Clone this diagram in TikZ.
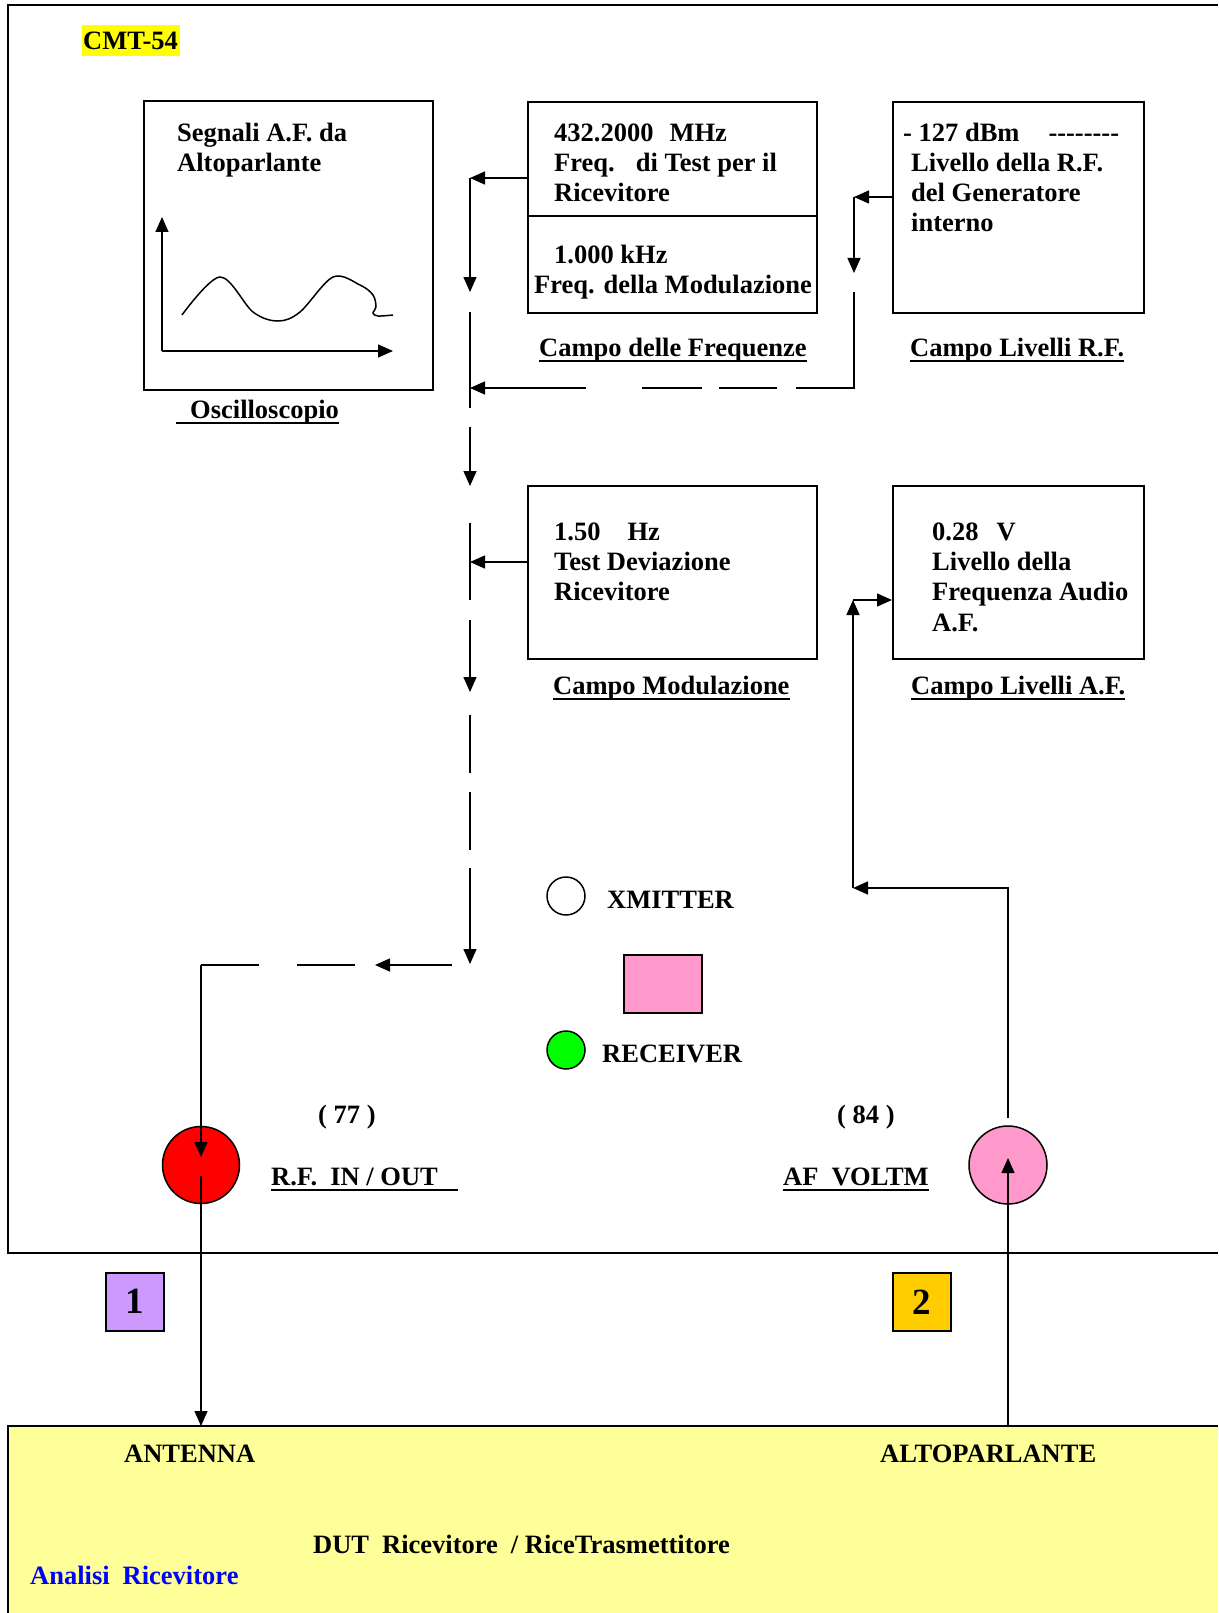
\documentclass[tikz,border=0pt]{standalone}
\usepackage{fontspec}
\setmainfont{Liberation Serif}
\usetikzlibrary{arrows.meta}
\definecolor{hl}{HTML}{FFFF00}
\definecolor{pinkf}{HTML}{FF99CC}
\definecolor{lav}{HTML}{CC99FF}
\definecolor{gold}{HTML}{FFCC00}
\definecolor{paley}{HTML}{FFFF99}
\definecolor{grn}{HTML}{00FF00}
\definecolor{rd}{HTML}{FF0000}
\definecolor{blu}{HTML}{0000FF}
\begin{document}
\begin{tikzpicture}[x=1pt,y=-1pt,
  txt/.style={inner sep=0pt, anchor=base west, font=\bfseries\fontsize{26.5}{30}\selectfont},
  frm/.style={draw, line width=1.8pt},
  boxn/.style={draw, line width=1.8pt, anchor=north west, inner sep=0pt},
  wire/.style={line width=1.5pt},
  arr/.style={wire, -{Triangle[length=15pt,width=13pt]}},
  uline/.style={line width=2.2pt},
  dot/.style={circle, draw, line width=1.5pt, inner sep=0pt},
  tag/.style={draw, line width=1.5pt, minimum width=58pt, minimum height=58pt, inner sep=0pt, font=\bfseries\fontsize{37}{40}\selectfont},
]
\useasboundingbox (0,0) rectangle (1218,1613);
\fill[white] (0,0) rectangle (1218,1613);

% outer instrument frame
\draw[frm] (1218,5) -- (8,5) -- (8,1253) -- (1218,1253);

% DUT yellow area
\fill[paley] (8,1426) rectangle (1218,1613);
\draw[frm] (1218,1426) -- (8,1426) -- (8,1613);
\coordinate (ant) at (201,1426);
\coordinate (spk) at (1008,1426);

% title
\fill[hl] (82,25) rectangle (180,56);
\node[txt] (title) at (83,50) {CMT-54};

% oscilloscope
\node[boxn, minimum width=289pt, minimum height=289pt] (osc) at (143,100) {};
\node[txt] (o1) at (177,142) {Segnali A.F. da};
\node[txt] (o2) at (177,172) {Altoparlante};
\coordinate (ax0) at (162,351);
\draw[arr] (ax0) -- (162,217);
\draw[arr] (ax0) -- (393,351);
\draw[wire] plot[smooth, tension=0.55] coordinates {(182,315) (220,277) (253,312) (278,321) (300,312) (333,277) (360,285) (373,295) (376,307) (373,313) (378,316) (393,315)};
\node[txt] (oscl) at (176,418) {\hspace*{14pt}Oscilloscopio};
\draw[uline] ([yshift=-5pt]oscl.base west) -- ([yshift=-5pt]oscl.base east);

% frequency box
\node[boxn, minimum width=289pt, minimum height=211pt] (freq) at (527,101) {};
\draw[frm] (527,216) -- (816,216);
\node[txt] (f1) at (554,142) {432.2000\hspace*{16pt}MHz};
\node[txt] (f2) at (554,172) {Freq.\hspace*{21pt}di Test per il};
\node[txt] (f3) at (554,202) {Ricevitore};
\node[txt] (f4) at (554,263) {1.000 kHz};
\node[txt] (f5) at (534,293) {Freq. della Modulazione};
\node[txt] (freql) at (539,356) {Campo delle Frequenze};
\draw[uline] ([yshift=-5pt]freql.base west) -- ([yshift=-5pt]freql.base east);

% RF level box
\node[boxn, minimum width=251pt, minimum height=211pt] (rf) at (892,101) {};
\node[txt] (r1) at (903,142) {- 127 dBm\hspace*{29pt}{-}{-}{-}{-}{-}{-}{-}{-}};
\node[txt] (r2) at (911,172) {Livello della R.F.};
\node[txt] (r3) at (911,202) {del Generatore};
\node[txt] (r4) at (911,232) {interno};
\node[txt] (rfl) at (910,356) {Campo Livelli R.F.};
\draw[uline] ([yshift=-5pt]rfl.base west) -- ([yshift=-5pt]rfl.base east);

% modulation box
\node[boxn, minimum width=289pt, minimum height=173pt] (mod) at (527,485) {};
\node[txt] (m1) at (554,540) {1.50\hspace*{27pt}Hz};
\node[txt] (m2) at (554,570) {Test Deviazione};
\node[txt] (m3) at (554,600) {Ricevitore};
\node[txt] (modl) at (553,694) {Campo Modulazione};
\draw[uline] ([yshift=-5pt]modl.base west) -- ([yshift=-5pt]modl.base east);

% AF level box
\node[boxn, minimum width=251pt, minimum height=173pt] (af) at (892,485) {};
\node[txt] (a1) at (932,540) {0.28\hspace*{18pt}V};
\node[txt] (a2) at (932,570) {Livello della};
\node[txt] (a3) at (932,600) {Frequenza Audio};
\node[txt] (a4) at (932,631) {A.F.};
\node[txt] (afl) at (911,694) {Campo Livelli A.F.};
\draw[uline] ([yshift=-5pt]afl.base west) -- ([yshift=-5pt]afl.base east);

% legend
\node[dot, minimum size=38pt] (xm) at (566,896) {};
\node[txt] (xmt) at (607,908) {XMITTER};
\node[draw, line width=1.5pt, fill=pinkf, anchor=north west, minimum width=78pt, minimum height=58pt, inner sep=0pt] (sq) at (623,954) {};
\node[dot, fill=grn, minimum size=38pt] (rx) at (566,1050) {};
\node[txt] (rxt) at (602,1062) {RECEIVER};

% connectors
\node[dot, fill=rd, minimum size=77pt] (rfc) at (201,1165) {};
\node[dot, fill=pinkf, minimum size=78pt] (afc) at (1008,1165) {};
\node[txt] (n77) at (318,1123) {( 77 )};
\node[txt] (n84) at (837,1123) {( 84 )};
\node[txt] (rfio) at (271,1185) {R.F.\hspace*{13pt}IN / OUT\hspace*{20pt}};
\draw[uline] ([yshift=-5pt]rfio.base west) -- ([yshift=-5pt]rfio.base east);
\node[txt] (afv) at (783,1185) {AF\hspace*{13pt}VOLTM};
\draw[uline] ([yshift=-5pt]afv.base west) -- ([yshift=-5pt]afv.base east);

% main vertical chain x=470
\coordinate (L0) at (470,178);
\draw[arr] (freq.west |- L0) -- (L0);
\draw[arr] (L0) -- (470,292);
\draw[wire] (470,312) -- (470,408);
\draw[arr] (470,427) -- (470,486);
\coordinate (L2) at (470,562);
\draw[wire] (470,523) -- (470,600);
\draw[arr] (mod.west |- L2) -- (L2);
\draw[arr] (470,620) -- (470,692);
\draw[wire] (470,715) -- (470,773);
\draw[wire] (470,792) -- (470,850);
\draw[arr] (470,868) -- (470,964);

% RF level feedback
\coordinate (R0) at (854,197);
\draw[arr] (rf.west |- R0) -- (R0);
\draw[arr] (R0) -- (854,273);
\coordinate (R1) at (854,388);
\coordinate (L1) at (470,388);
\draw[wire] (854,292) -- (R1) -- (796,388);
\draw[wire] (777,388) -- (719,388);
\draw[wire] (702,388) -- (642,388);
\draw[arr] (586,388) -- (L1);

% to RF IN/OUT
\coordinate (C1) at (201,965);
\draw[arr] (452,965) -- (375,965);
\draw[wire] (355,965) -- (297,965);
\draw[wire] (259,965) -- (C1);
\draw[arr] (C1) -- (201,1157);
\draw[arr] (201,1176) -- (ant);

% AF voltmeter path
\draw[arr] (spk) -- (1008,1158);
\coordinate (A1) at (1008,888);
\coordinate (A2) at (853,888);
\coordinate (A3) at (853,600);
\draw[arr] (1008,1118) -- (A1) -- (A2);
\draw[arr] (A2) -- (A3);
\draw[arr] (A3) -- (af.west |- A3);

% numbered tags
\node[tag, fill=lav, anchor=north west] (t1) at (105,1272) {\raisebox{-3pt}{1}};
\node[tag, fill=gold, anchor=north west] (t2) at (892,1272) {\raisebox{-3pt}{2}};

% DUT labels
\node[txt] (antl) at (124,1462) {ANTENNA};
\node[txt] (spkl) at (880,1462) {ALTOPARLANTE};
\node[txt] (dutl) at (313,1553) {DUT\hspace*{13pt}Ricevitore\hspace*{13pt}/ RiceTrasmettitore};
\node[txt, text=blu] (anl) at (30,1584) {Analisi\hspace*{13pt}Ricevitore};
\end{tikzpicture}
\end{document}
